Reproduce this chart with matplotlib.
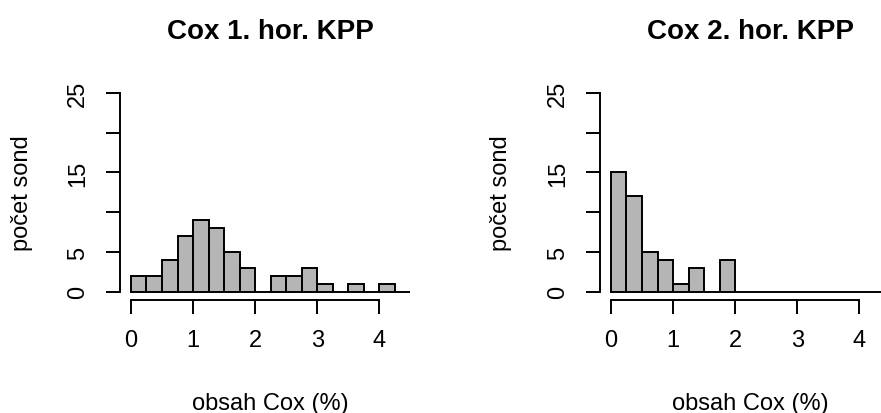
import numpy as np
import matplotlib
matplotlib.use("Agg")
import matplotlib.pyplot as plt

plt.rcParams['font.family'] = ['Liberation Sans', 'DejaVu Sans']

# histogram bins (width 0.25, from 0 to 4.5) and counts
bin_edges = np.arange(0, 4.5, 0.25)
counts_h1 = [2, 2, 4, 7, 9, 8, 5, 3, 0, 2, 2, 3, 1, 0, 1, 0, 1, 0]
counts_h2 = [15, 12, 5, 4, 1, 3, 0, 4, 0, 0, 0, 0, 0, 0, 0, 0, 0, 0]
titles = ['Cox 1. hor. KPP', 'Cox 2. hor. KPP']
xlabel = 'obsah Cox (%)'
ylabel = 'počet sond'
xticks = [0, 1, 2, 3, 4]
yticks = [0, 5, 10, 15, 20, 25]
ytick_labels = ['0', '5', '', '15', '', '25']

W, H = 881, 414
fig = plt.figure(figsize=(W / 100, H / 100), dpi=100)

lw = 1.4
fs = 17
aw, ah = 301.7, 214.6           # plot region size in px
positions = [(119.8, 300.65), (599.8, 300.65)]  # left / bottom of plot region in px

for (px, py), counts, title in zip(positions, [counts_h1, counts_h2], titles):
    ax = fig.add_axes([px / W, (H - py) / H, aw / W, ah / H])
    ax.bar(bin_edges, counts, width=0.25, align='edge', color='#b5b5b5',
           edgecolor='black', linewidth=lw, zorder=2)
    ax.set_xlim(-0.18, 4.68)
    ax.set_ylim(-1, 26)
    ax.patch.set_visible(False)

    # R-style detached axes
    for s in ['top', 'right']:
        ax.spines[s].set_visible(False)
    ax.spines['left'].set_bounds(0, 25)
    ax.spines['bottom'].set_bounds(0, 4)
    for s in ['left', 'bottom']:
        ax.spines[s].set_linewidth(lw)
        ax.spines[s].set_color('black')

    ax.set_xticks(xticks)
    ax.set_xticklabels([str(t) for t in xticks])
    ax.set_yticks(yticks)
    ax.set_yticklabels(ytick_labels, rotation=90, va='center')
    ax.tick_params(axis='both', length=10, width=lw, labelsize=fs, colors='black')
    ax.tick_params(axis='x', pad=11)
    ax.tick_params(axis='y', pad=12)

    ax.set_title(title, fontsize=20, fontweight='bold', pad=34)
    ax.text(0.5, -(410 - py) / ah, xlabel, transform=ax.transAxes,
            ha='center', va='baseline', fontsize=fs)
    ax.text(-98.3 / aw, 0.5, ylabel, transform=ax.transAxes,
            ha='center', va='center', rotation=90, fontsize=fs)

fig.savefig('out.png', dpi=100)
